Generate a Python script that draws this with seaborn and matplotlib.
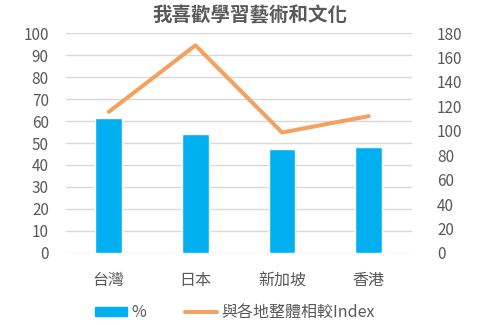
import matplotlib
matplotlib.use("Agg")
import matplotlib.pyplot as plt
import seaborn as sns
import pandas as pd
from matplotlib.patches import Patch
from matplotlib.lines import Line2D

categories = ["台灣", "日本", "新加坡", "香港"]
pct = [61.6, 54.3, 47.3, 48.0]
index_vals = [115.5, 170, 98.6, 112]
left_ticks = list(range(0, 101, 10))
right_ticks = list(range(0, 181, 20))
title = "我喜歡學習藝術和文化"

sns.set_theme(style="white")
plt.rcParams['font.family'] = ['Noto Sans CJK TC', 'DejaVu Sans']

BLUE = "#00B0F0"
ORANGE = "#F4A05E"
GREY = "#595959"

df = pd.DataFrame({"cat": categories, "pct": pct, "idx": index_vals})

fig = plt.figure(figsize=(5, 3.25), dpi=100)
ax = fig.add_axes([0.131, 0.222, 0.693, 0.676])
sns.barplot(data=df, x="cat", y="pct", color=BLUE, saturation=1, width=0.31, ax=ax, zorder=2)
ax.set_ylim(0, 100)
ax.set_yticks(left_ticks)
ax.set_xlim(-0.5, 3.5)
ax.grid(axis="y", color="#D9D9D9", linewidth=1, zorder=0)
ax.set_axisbelow(True)
for s in ax.spines.values():
    s.set_visible(False)
ax.set_xlabel("")
ax.set_ylabel("")
ax.tick_params(axis="y", length=0, labelsize=11, labelcolor=GREY, pad=12)
ax.tick_params(axis="x", length=0, labelsize=11.5, labelcolor=GREY, pad=14)

ax2 = ax.twinx()
sns.lineplot(x=list(range(len(categories))), y=index_vals, color=ORANGE, linewidth=2.9, ax=ax2, zorder=3)
ax2.set_ylim(0, 180)
ax2.set_yticks(right_ticks)
for s in ax2.spines.values():
    s.set_visible(False)
ax2.tick_params(axis="y", length=0, labelsize=11, labelcolor=GREY, pad=18)
ax2.set_ylabel("")

fig.text(0.5, 0.953, title, ha="center", va="center", fontsize=14, fontweight="bold", color=GREY)

handles = [Patch(facecolor=BLUE, edgecolor=BLUE, label="%"),
           Line2D([0], [0], color=ORANGE, linewidth=2.9, label="與各地整體相較Index")]
fig.legend(handles=handles, loc="center", bbox_to_anchor=(0.47, 0.038), ncol=2, frameon=False,
           fontsize=11.5, labelcolor=GREY, handlelength=2.0, handleheight=0.55, columnspacing=2.4,
           handletextpad=0.3)

fig.savefig("out.png", dpi=100)
